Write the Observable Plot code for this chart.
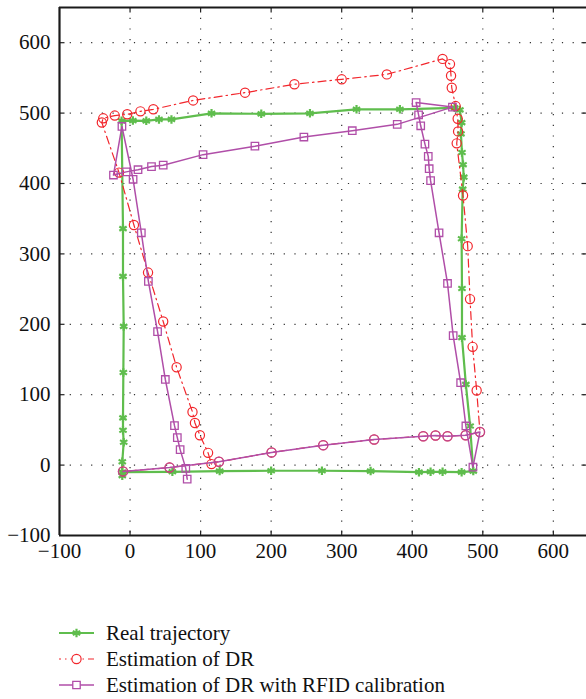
<!DOCTYPE html>
<html>
<head>
<meta charset="utf-8">
<script src="https://cdn.jsdelivr.net/npm/d3@7"></script>
<script src="https://cdn.jsdelivr.net/npm/@observablehq/plot@0.6"></script>
<style>
  html, body { margin: 0; padding: 0; background: #fff; overflow: hidden; }
  #legend { margin-top: 54px; font-family: 'Liberation Serif', serif; font-size: 21px; color: #111; }
  .row { display: flex; align-items: center; height: 26px; padding-left: 59px; }
  .row span { margin-left: 12px; white-space: nowrap; }
</style>
</head>
<body>
<div id="chart"></div>
<div id="legend"></div>
<script>
// ---- data ----
const xTicks = [-100, 0, 100, 200, 300, 400, 500, 600];
const yTicks = [-100, 0, 100, 200, 300, 400, 500, 600];

const seriesNames = ["Real trajectory", "Estimation of DR", "Estimation of DR with RFID calibration"];

// Real trajectory
const realX = [-11, 60, 127, 200, 272, 341, 409.5, 426, 443, 470, 486.5, 482, 476, 470.5, 470.5, 470, 471.5, 473, 472, 470.5, 469, 470, 467.5, 460, 382.5, 321, 255, 186, 115.5, 58.7, 41, 23, 4, -12, -10, -10, -9, -9.5, -10, -10, -9, -11, -11];
const realY = [-10, -9.5, -8.5, -8, -8, -8.5, -10, -9.5, -9.5, -10, -8.5, 55.6, 114.6, 181, 250.8, 321.5, 392, 409, 426.7, 444, 470.5, 486.5, 504.5, 507.5, 505.4, 505.4, 499.7, 499, 499.7, 491, 491, 489, 489.4, 489, 336, 268, 197, 131.5, 67, 49.5, 32.5, 4.7, -15];

// DR estimate along the first (bottom) side, shared by both estimates (no tag met yet)
const sharedX = [-10, 56, 126, 200.6, 273.8, 346, 415.6, 433, 450, 475.7, 496];
const sharedY = [-9, -3.5, 4.7, 18, 28.3, 36.3, 41, 42, 41, 42.4, 47];

// Estimation of DR (rest of the path)
const drX = [491.3, 485.6, 481.9, 478.6, 472, 463, 465, 464.4, 461.5, 456, 455, 453.5, 443, 364, 300, 233, 163, 89.4, 33, 14.7, -4, -21.7, -38, -40, -15.6, 5.5, 25.5, 47, 66, 88.5, 92, 99, 110.6, 115.4];
const drY = [106, 168, 235.8, 311, 383, 457, 474, 492, 510, 536, 553, 569.6, 577, 555, 548, 541, 529, 518, 505.4, 502.5, 498.3, 496.5, 492.6, 486.6, 415.5, 341, 273.5, 204, 139, 75.4, 59.8, 42.4, 17.4, 1.4];

// Estimation of DR with RFID calibration (rest of the path)
const rfidX = [486, 476, 468.6, 458, 450, 438, 426, 424, 422.7, 418, 412, 409, 405.5, 457, 378.7, 315, 246.4, 177, 103.5, 47, 30.4, 11.3, -5.5, -23.5, -11.5, 4.3, 16, 26, 39, 50, 63, 67, 71, 79, 81];
const rfidY = [-3, 55.6, 117, 184, 258, 330, 404, 421, 438.5, 456, 482, 497.5, 515, 508.5, 484, 475, 466, 453, 441, 426, 424, 419.6, 416.5, 412, 481, 406, 330, 261, 189.5, 121.6, 56, 39, 22, -4.7, -20];

// ---- styles ----
const GREEN = "#5fbd4d", RED = "#f2262c", MAGENTA = "#b04ea8";
const DASHDOT = "8,4,1.5,4";

const toPts = (xs, ys) => xs.map((x, i) => ({x, y: ys[i]}));
const real = toPts(realX, realY);
const shared = toPts(sharedX, sharedY);
const dr = shared.concat(toPts(drX, drY));
const rfidRest = toPts(rfidX, rfidY);
const rfid = shared.concat(rfidRest);

const fmt = d => d < 0 ? "\u2212" + Math.abs(d) : String(d);

// inward tick symbols
const tickUp = {draw(c) { c.moveTo(0, 0); c.lineTo(0, -5); }};
const tickDown = {draw(c) { c.moveTo(0, 0); c.lineTo(0, 5); }};
const tickRight = {draw(c) { c.moveTo(0, 0); c.lineTo(5, 0); }};
const tickLeft = {draw(c) { c.moveTo(0, 0); c.lineTo(-5, 0); }};

const innerX = xTicks.filter(t => t > -100);
const innerY = yTicks.filter(t => t > -100);

const chart = Plot.plot({
  width: 586,
  height: 566,
  marginTop: 7,
  marginBottom: 31,
  marginLeft: 59,
  marginRight: 0,
  x: {domain: [-100, 647], ticks: xTicks, tickFormat: fmt, tickSize: 0, tickPadding: 8, label: null},
  y: {domain: [-100, 650], ticks: yTicks, tickFormat: fmt, tickSize: 0, tickPadding: 9, label: null},
  style: {fontFamily: "'Liberation Serif', serif", fontSize: "21px", color: "#111", background: "#fff"},
  marks: [
    Plot.ruleX(innerX, {stroke: "#333", strokeWidth: 1.2, strokeDasharray: "1.2,9.5"}),
    Plot.ruleY(innerY, {stroke: "#333", strokeWidth: 1.2, strokeDasharray: "1.2,9.5"}),
    Plot.dot(innerX, {x: d => d, frameAnchor: "bottom", symbol: tickUp, stroke: "#222", fill: "none", strokeWidth: 1.2}),
    Plot.dot(innerX, {x: d => d, frameAnchor: "top", symbol: tickDown, stroke: "#222", fill: "none", strokeWidth: 1.2}),
    Plot.dot(innerY, {y: d => d, frameAnchor: "left", symbol: tickRight, stroke: "#222", fill: "none", strokeWidth: 1.2}),
    Plot.dot(innerY, {y: d => d, frameAnchor: "right", symbol: tickLeft, stroke: "#222", fill: "none", strokeWidth: 1.2}),

    Plot.line(real, {x: "x", y: "y", stroke: GREEN, strokeWidth: 2.2}),
    Plot.dot(real, {x: "x", y: "y", symbol: "asterisk", r: 4, stroke: GREEN, fill: "none", strokeWidth: 2.2}),

    Plot.line(dr, {x: "x", y: "y", stroke: RED, strokeWidth: 1.2, strokeDasharray: DASHDOT}),
    Plot.dot(dr, {x: "x", y: "y", symbol: "circle", r: 4.6, stroke: RED, fill: "none", strokeWidth: 1.2}),

    Plot.line(rfid, {x: "x", y: "y", stroke: MAGENTA, strokeWidth: 1.5}),
    Plot.dot(shared, {x: "x", y: "y", symbol: "circle", r: 4.6, stroke: MAGENTA, strokeOpacity: 0.75, fill: "none", strokeWidth: 1.3}),
    Plot.dot(rfidRest, {x: "x", y: "y", symbol: "square", r: 4.2, stroke: MAGENTA, fill: "none", strokeWidth: 1.3}),

    Plot.ruleX([-100], {stroke: "#1a1a1a", strokeWidth: 2.2}),
    Plot.ruleY([-100, 650], {stroke: "#1a1a1a", strokeWidth: 2.2})
  ]
});
document.getElementById("chart").appendChild(chart);

// ---- legend ----
const legendSpec = [
  {name: seriesNames[0], color: GREEN, symbol: d3.symbolAsterisk, r: 4, width: 2.2, dash: null, mw: 2.2},
  {name: seriesNames[1], color: RED, symbol: d3.symbolCircle, r: 4.6, width: 1.2, dash: DASHDOT, mw: 1.2},
  {name: seriesNames[2], color: MAGENTA, symbol: d3.symbolSquare, r: 4.2, width: 1.5, dash: null, mw: 1.3}
];
const rows = d3.select("#legend").selectAll("div").data(legendSpec).join("div").attr("class", "row");
const sw = rows.append("svg").attr("width", 35).attr("height", 26).style("overflow", "visible");
sw.append("line").attr("x1", 0).attr("x2", 35).attr("y1", 13).attr("y2", 13)
  .attr("stroke", d => d.color).attr("stroke-width", d => d.width)
  .attr("stroke-dasharray", d => d.dash).attr("stroke-dashoffset", d => d.dash ? 6 : null);
sw.append("path").attr("transform", "translate(17.5,13)")
  .attr("d", d => d3.symbol(d.symbol, Math.PI * d.r * d.r)())
  .attr("fill", "#fff").attr("stroke", d => d.color).attr("stroke-width", d => d.mw);
rows.append("span").text(d => d.name);
</script>
</body>
</html>
